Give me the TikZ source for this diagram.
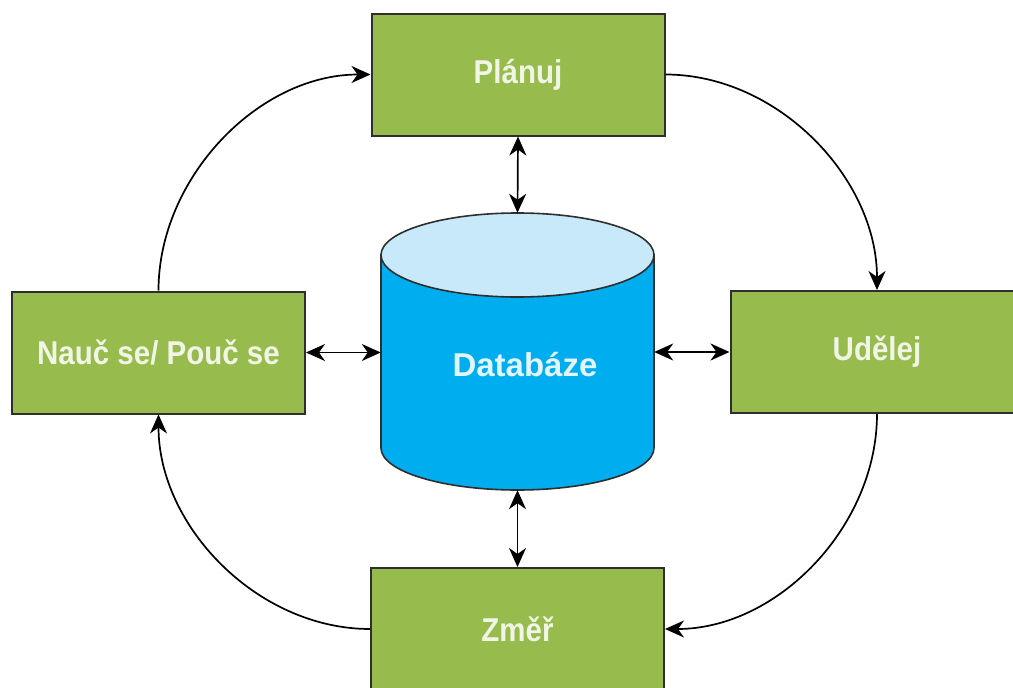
\documentclass[tikz,border=0pt]{standalone}
\usepackage{fontspec}
\usepackage{graphicx}
\setmainfont{Liberation Sans}
\usetikzlibrary{arrows.meta,calc}
\definecolor{boxgreen}{HTML}{97BB4D}
\definecolor{boxline}{HTML}{2E2E2E}
\definecolor{boxtext}{HTML}{F0F5E6}
\definecolor{dbside}{HTML}{00AEEF}
\definecolor{dbtop}{HTML}{C8E9F9}
\definecolor{dbtext}{HTML}{E2F4FC}
\tikzset{
  stepbox/.style={draw=boxline, line width=2pt, fill=boxgreen, inner sep=0pt,
    minimum width=293pt, minimum height=122pt, text=boxtext,
    font=\fontsize{29.5}{30}\selectfont\bfseries},
  tip/.style={Stealth[length=19pt,width=17pt,inset=6pt]},
  flow/.style={draw=black, line width=1.7pt, -{Stealth[length=19pt,width=17pt,inset=6pt]}},
  both/.style={draw=black, line width=1.7pt, {Stealth[length=19pt,width=17pt,inset=6pt]}-{Stealth[length=19pt,width=17pt,inset=6pt]}},
}
\begin{document}
\begin{tikzpicture}[x=1pt,y=-1pt]
\useasboundingbox (0,0) rectangle (1013,688);
\fill[white] (0,0) rectangle (1013,688);
% boxes
\node[stepbox] (plan) at (518,74.5) {\scalebox{1}[1.12]{Plánuj}};
\node[stepbox] (learn) at (158.5,352.5) {\scalebox{1}[1.12]{Nauč se/ Pouč se}};
\node[stepbox] (do) at (877,352) {\scalebox{1}[1.12]{Udělej}};
\node[stepbox] (meas) at (517.5,629) {\scalebox{1}[1.12]{Změř}};
% database cylinder
\path[draw=boxline, line width=1.6pt, fill=dbside]
  (381,255) -- (381,448) arc[start angle=180, end angle=360, x radius=136.5pt, y radius=42pt] -- (654,255) -- cycle;
\path[draw=boxline, line width=1.6pt, fill=dbtop] (517.5,255) ellipse [x radius=136.5pt, y radius=42pt];
\node[inner sep=0pt, minimum width=273pt, minimum height=277pt] (db) at (517.5,351.5) {};
\node[text=dbtext, font=\fontsize{33}{34}\selectfont\bfseries] (dblabel) at (525,365) {Databáze};
% cycle arrows
\draw[flow] (learn.north) to[out=90, in=180, looseness=0.95] (plan.west);
\draw[flow] (plan.east) to[out=0, in=90, looseness=0.95] (do.north);
\draw[flow] (do.south) to[out=-90, in=0, looseness=0.95] (meas.east);
\draw[flow] (meas.west) to[out=180, in=-90, looseness=0.95] (learn.south);
% database links
\draw[both] (plan.south) -- (db.north);
\draw[both] (meas.north) -- (db.south);
\draw[both] (learn.east) -- (learn.east -| db.west);
\draw[both] (do.west) -- (do.west -| db.east);
\end{tikzpicture}
\end{document}
